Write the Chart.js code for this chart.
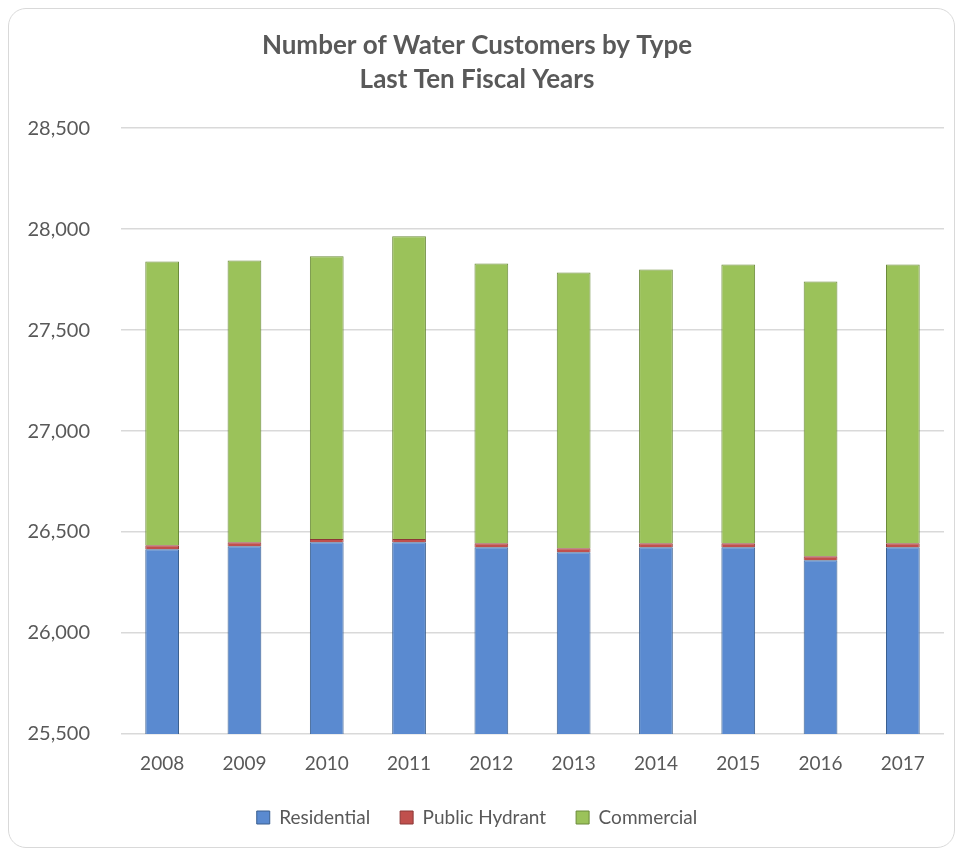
<!DOCTYPE html>
<html>
<head>
<meta charset="utf-8">
<script src="https://cdn.jsdelivr.net/npm/chart.js@4/dist/chart.umd.min.js"></script>
<style>
    body { margin: 0; background: #fff; }
    #wrap { position: relative; width: 959px; height: 853px; }
    #frame {
        position: absolute; left: 8px; top: 8px; width: 945px; height: 838px;
        border: 1px solid #d9d9d9; border-radius: 18px; pointer-events: none;
    }
</style>
</head>
<body>
<div id="wrap">
    <canvas id="chart" width="959" height="853"></canvas>
    <div id="frame"></div>
</div>
<script>
// Datos
const years = ['2008', '2009', '2010', '2011', '2012', '2013', '2014', '2015', '2016', '2017'];
const residential = [26415, 26430, 26450, 26450, 26425, 26400, 26425, 26425, 26360, 26425];
const publicHydrant = [20, 20, 15, 15, 20, 20, 20, 20, 20, 20];
const commercial = [1405, 1395, 1400, 1500, 1385, 1365, 1355, 1380, 1360, 1380];

const font = "Lato, 'Open Sans', sans-serif";
const textColor = '#595959';

const ctx = document.getElementById('chart').getContext('2d');
const chart = new Chart(ctx, {
    type: 'bar',
    data: {
        labels: years,
        datasets: [
            {
                label: 'Residential',
                data: residential,
                backgroundColor: '#5a8ad0',
                borderColor: '#3a5f8f',
                borderWidth: 1
            },
            {
                label: 'Public Hydrant',
                data: publicHydrant,
                backgroundColor: '#c0504d',
                borderColor: '#8c3836',
                borderWidth: 1
            },
            {
                label: 'Commercial',
                data: commercial,
                backgroundColor: '#9bc25a',
                borderColor: '#6b8a3a',
                borderWidth: 1
            }
        ]
    },
    options: {
        responsive: false,
        animation: false,
        layout: { padding: { top: 23, right: 15, left: 10, bottom: 16 } },
        datasets: {
            bar: { barPercentage: 0.41, categoryPercentage: 1 }
        },
        scales: {
            x: {
                stacked: true,
                afterFit: (scale) => { scale.height = 44; },
                grid: { display: false },
                border: { display: false },
                ticks: { color: textColor, font: { family: font, size: 19 }, padding: 10 }
            },
            y: {
                stacked: true,
                min: 25500,
                max: 28500,
                afterFit: (scale) => { scale.width = 111; },
                ticks: {
                    stepSize: 500,
                    color: textColor,
                    padding: 31,
                    font: { family: font, size: 20 },
                    callback: (v) => v.toLocaleString('en-US')
                },
                grid: { color: '#d9d9d9', tickLength: 0, lineWidth: 1.5 },
                border: { display: false }
            }
        },
        plugins: {
            title: {
                display: true,
                text: ['Number of Water Customers by Type', 'Last Ten Fiscal Years'],
                color: textColor,
                font: { family: font, size: 26, weight: 'bold', lineHeight: 1.31 },
                padding: { top: 6, bottom: 31 }
            },
            legend: {
                position: 'bottom',
                labels: {
                    color: textColor,
                    font: { family: font, size: 19 },
                    boxWidth: 13,
                    boxHeight: 13,
                    padding: 30
                }
            },
            tooltip: { enabled: false }
        }
    }
});
</script>
</body>
</html>
